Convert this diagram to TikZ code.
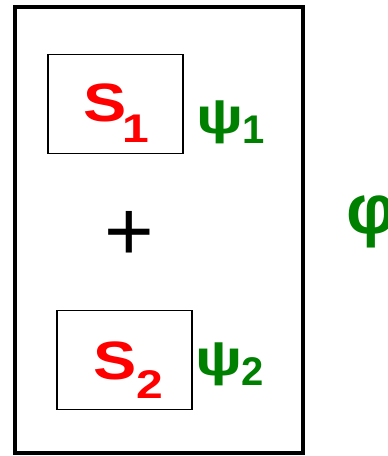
\documentclass[tikz,border=0pt]{standalone}
\usepackage{fontspec}
\setmainfont{Liberation Sans}
\newcommand{\lowsub}[2]{\raisebox{-#1}{\fontsize{40}{40}\selectfont #2}}
\newcommand{\wide}[2]{\scalebox{#1}[1]{#2}}

\begin{document}
\begin{tikzpicture}
[x=1pt,y=-1pt,
outer/.style={draw,line width=4pt},
partBox/.style={draw,line width=1.6pt,minimum width=135pt,minimum height=99pt,inner sep=0pt},
partLabel/.style={text=red,font=\bfseries\fontsize{54}{54}\selectfont,anchor=base west,inner sep=0pt},
waveLabel/.style={text=waveGreen,font=\bfseries\fontsize{50}{50}\selectfont,anchor=base west,inner sep=0pt},
]
\definecolor{waveGreen}{RGB}{0,128,0}
\useasboundingbox (0,0) rectangle (388,456);
\draw[outer] (15,7) rectangle (302.5,453);
\node[partBox] (s1) at (115.5,104) {};
\node[partBox] (s2) at (124.75,360) {};
\node[partLabel] (s1txt) at (83,121) {\wide{1.2}{S\kern-3pt\lowsub{21pt}{1}}};
\node[partLabel] (s2txt) at (93,379) {\wide{1.2}{S\lowsub{19pt}{2}}};
\node[waveLabel] (psi1) at (196,133) {\wide{1.25}{ψ}\kern-1pt\lowsub{10pt}{1}};
\node[waveLabel] (psi2) at (195,375) {\wide{1.25}{ψ}\kern-1pt\lowsub{10pt}{2}};
\node[font=\fontsize{85}{85}\selectfont,anchor=base,inner sep=0pt] (plus) at (129,260) {+};
\node[waveLabel,font=\bfseries\fontsize{70}{70}\selectfont] (phi) at (346,233) {φ};
\end{tikzpicture}
\end{document}
